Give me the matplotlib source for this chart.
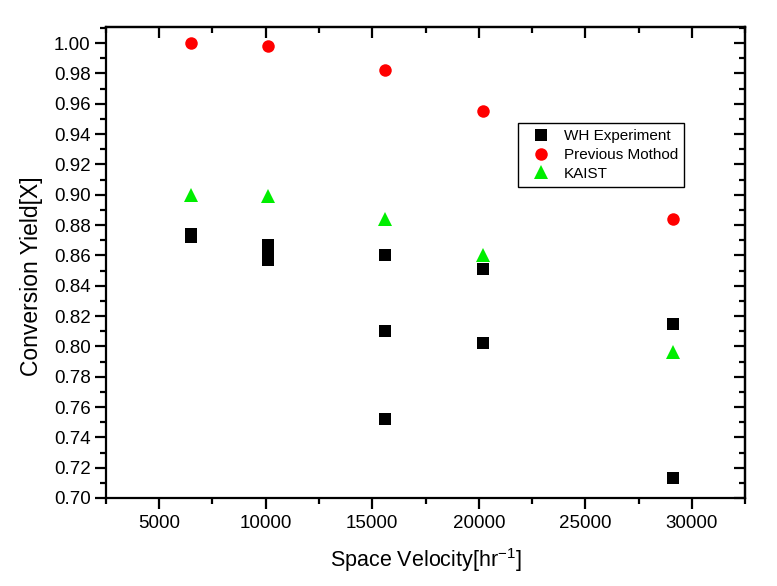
import matplotlib
matplotlib.use("Agg")
import matplotlib.pyplot as plt
from matplotlib.ticker import MultipleLocator, FormatStrFormatter, NullFormatter

plt.rcParams['font.family'] = ['Liberation Sans', 'DejaVu Sans']
plt.rcParams['mathtext.fontset'] = 'custom'
plt.rcParams['mathtext.rm'] = 'Liberation Sans'
plt.rcParams['mathtext.it'] = 'Liberation Sans'

# Data
wh_x = [6500, 6500, 10100, 10100, 10100, 15600, 15600, 15600, 20200, 20200, 29100, 29100]
wh_y = [0.874, 0.872, 0.867, 0.860, 0.857, 0.860, 0.810, 0.752, 0.851, 0.802, 0.815, 0.713]

prev_x = [6500, 10100, 15600, 20200, 29100]
prev_y = [1.000, 0.998, 0.982, 0.955, 0.884]

kaist_x = [6500, 10100, 15600, 20200, 29100]
kaist_y = [0.900, 0.899, 0.884, 0.860, 0.796]

x_ticks = [5000, 10000, 15000, 20000, 25000, 30000]

fig = plt.figure(figsize=(7.77, 5.86), dpi=100)
ax = fig.add_axes([106/777, 1-498/586, (745-106)/777, (498-27)/586])

ax.plot(wh_x, wh_y, linestyle='none', marker='s', markersize=8, color='black',
        markeredgewidth=0, label='WH Experiment')
ax.plot(prev_x, prev_y, linestyle='none', marker='o', markersize=9, color='#ff0000',
        markeredgewidth=0, label='Previous Mothod')
ax.plot(kaist_x, kaist_y, linestyle='none', marker='^', markersize=10, color='#00ee00',
        markeredgewidth=0, label='KAIST')

ax.set_xlim(2500, 32500)
ax.set_ylim(0.70, 1.0106)
ax.set_xticks(x_ticks)
ax.xaxis.set_minor_locator(MultipleLocator(2500))
ax.yaxis.set_major_locator(MultipleLocator(0.02))
ax.yaxis.set_minor_locator(MultipleLocator(0.01))
ax.yaxis.set_major_formatter(FormatStrFormatter('%.2f'))

for s in ax.spines.values():
    s.set_linewidth(1.6)

ax.tick_params(which='both', direction='out', width=1.6, labelsize=13.5, top=False, right=False)
ax.tick_params(which='major', length=8)
ax.tick_params(which='minor', length=4)
ax.tick_params(axis='y', pad=3)
ax.tick_params(axis='x', pad=4)

# mirrored axes with inward ticks
top = ax.secondary_xaxis('top')
top.set_xticks(x_ticks)
top.xaxis.set_minor_locator(MultipleLocator(2500))
top.xaxis.set_major_formatter(NullFormatter())
top.tick_params(which='both', direction='in', width=1.6)
top.tick_params(which='major', length=8)
top.tick_params(which='minor', length=4)
top.spines['top'].set_linewidth(1.6)

right = ax.secondary_yaxis('right')
right.yaxis.set_major_locator(MultipleLocator(0.02))
right.yaxis.set_minor_locator(MultipleLocator(0.01))
right.yaxis.set_major_formatter(NullFormatter())
right.tick_params(which='both', direction='in', width=1.6)
right.tick_params(which='major', length=8)
right.tick_params(which='minor', length=4)
right.spines['right'].set_linewidth(1.6)

ax.set_xlabel('Space Velocity[hr$^{-1}$]', fontsize=15.5)
ax.set_ylabel('Conversion Yield[X]', fontsize=16.5)
ax.xaxis.set_label_coords(0.5, -0.132)
ax.yaxis.set_label_coords(-0.116, 0.471)
ax.yaxis.label.set_verticalalignment('center')
ax.xaxis.label.set_verticalalignment('center')

leg = ax.legend(loc='upper left', bbox_to_anchor=(0.645, 0.7955), fontsize=11,
                frameon=True, fancybox=False, edgecolor='black', framealpha=1,
                borderpad=0.4, labelspacing=0.3, handletextpad=0.4, handlelength=2.2,
                borderaxespad=0)
leg.get_frame().set_linewidth(1.0)

fig.savefig('out.png', dpi=100, facecolor='white')
